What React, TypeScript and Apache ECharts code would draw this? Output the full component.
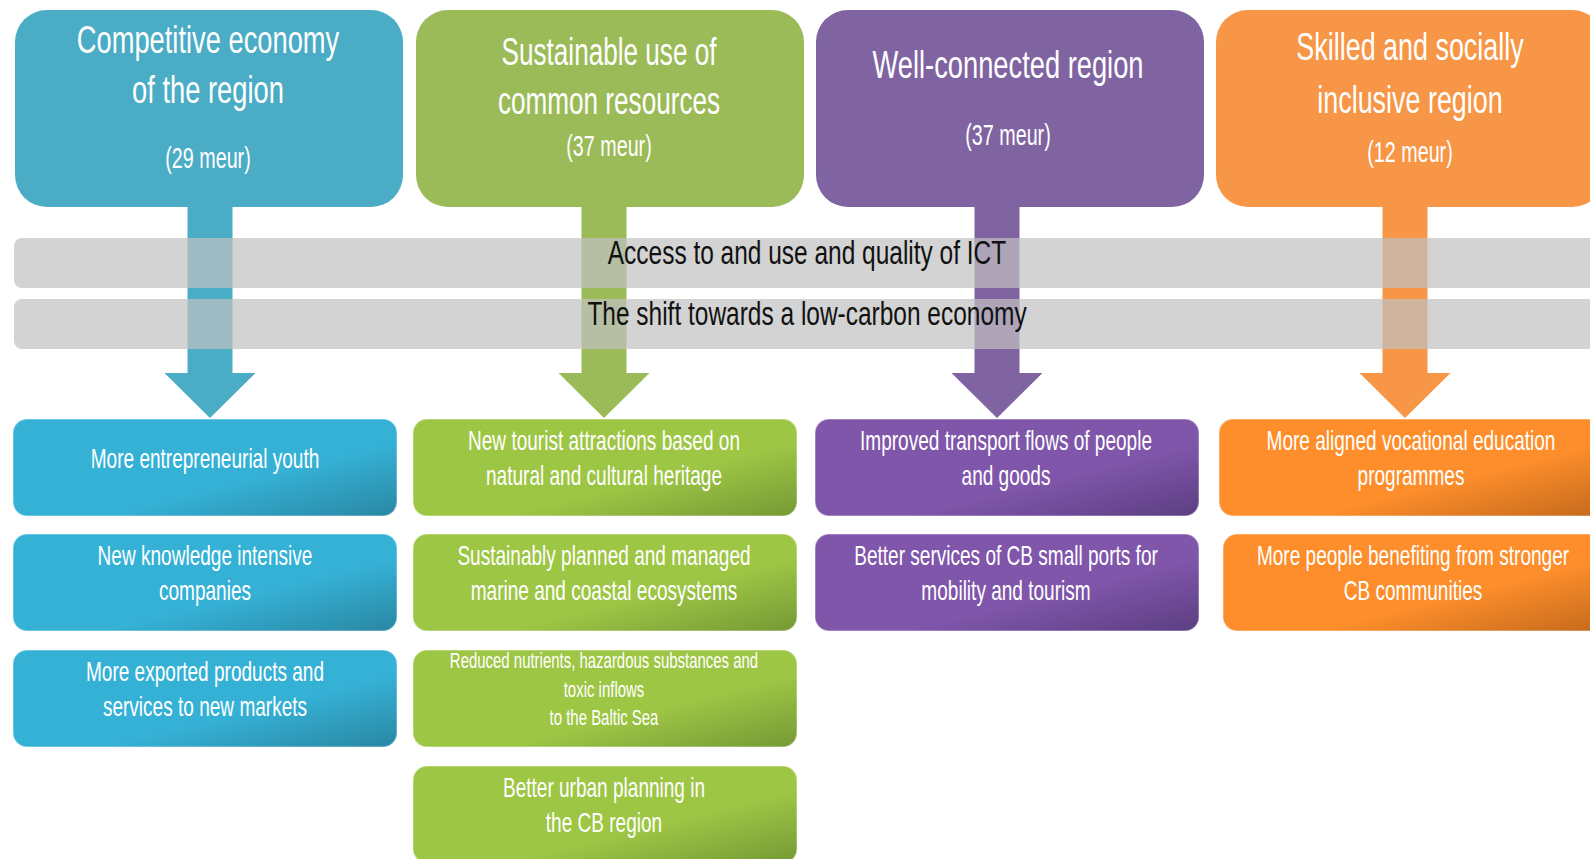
import React, { useEffect, useRef } from "react";
import * as echarts from "echarts";

// ---- content ----
const priorityTitles: string[][] = [
  ["Competitive economy", "of the region"],
  ["Sustainable use of", "common resources"],
  ["Well-connected region"],
  ["Skilled and socially", "inclusive region"],
];
const priorityBudgets = ["(29 meur)", "(37 meur)", "(37 meur)", "(12 meur)"];
const crossCuttingThemes = [
  "Access to and use and quality of ICT",
  "The shift towards a low-carbon economy",
];
const outcomesCompetitive: string[][] = [
  ["More entrepreneurial youth"],
  ["New knowledge intensive", "companies"],
  ["More exported products and", "services to new markets"],
];
const outcomesSustainable: string[][] = [
  ["New tourist attractions based on", "natural and cultural heritage"],
  ["Sustainably planned and managed", "marine and coastal ecosystems"],
  ["Reduced nutrients, hazardous substances and", "toxic inflows", "to the Baltic Sea"],
  ["Better urban planning in", "the CB region"],
];
const outcomesConnected: string[][] = [
  ["Improved transport flows of people", "and goods"],
  ["Better services of CB small ports for", "mobility and tourism"],
];
const outcomesSkilled: string[][] = [
  ["More aligned vocational education", "programmes"],
  ["More people benefiting from stronger", "CB communities"],
];
const outcomeColumns = [outcomesCompetitive, outcomesSustainable, outcomesConnected, outcomesSkilled];

// ---- styling ----
const themeColors = ["#4BACC6", "#9BBB59", "#8064A2", "#F79646"];
const outcomeLight = ["#35B1D6", "#9DC645", "#7F56AA", "#FD8E2B"];
const outcomeDark = ["#2A87A3", "#769935", "#5C3E82", "#C4691C"];

const FONT = '"Liberation Sans", Arial, sans-serif';

// ---- layout ----
const topX = [15, 416, 816, 1216];
const topW = 388;
const topY = 10;
const topH = 197;
const titleCX = [208, 609, 1008, 1410];
const titleCY = [65, 75.5, 65, 73.5];
const titleLH = [50, 49, 50, 53];
const titleSX = [0.7, 0.67, 0.7, 0.69];
const budgetY = [158, 146, 135, 152];
const arrowCX = [210, 604, 997, 1405];
const outX = [13, 413, 815, 1219];
const outW = 384;
const outY = [419, 534, 650, 766];
const outH = 97;
const outTextCX = [205, 604, 1006, 1411];
const bandY = [238, 299];
const bandTextY = [252, 313];

function txt(text: string, x: number, y: number, size: number, color: string, sx = 0.7, lh?: number) {
  return {
    type: "text",
    x,
    y,
    scaleX: sx,
    z: 10,
    style: {
      text,
      fill: color,
      fontSize: size,
      fontFamily: FONT,
      align: "center",
      verticalAlign: "middle",
      lineHeight: lh,
    },
  };
}

function buildGraphics() {
  const els: any[] = [];
  // arrows
  arrowCX.forEach((cx, i) => {
    els.push({
      type: "polygon",
      z: 1,
      shape: {
        points: [
          [cx - 22.5, topY + topH - 2],
          [cx + 22.5, topY + topH - 2],
          [cx + 22.5, 373],
          [cx + 45.5, 373],
          [cx, 418],
          [cx - 45.5, 373],
          [cx - 22.5, 373],
        ],
      },
      style: { fill: themeColors[i] },
    });
  });
  // top priority boxes
  topX.forEach((x, i) => {
    els.push({
      type: "rect",
      z: 2,
      shape: { x, y: topY, width: topW, height: topH, r: 32 },
      style: { fill: themeColors[i] },
    });
    els.push(txt(priorityTitles[i].join("\n"), titleCX[i], titleCY[i], 39, "#ffffff", titleSX[i], titleLH[i]));
    els.push(txt(priorityBudgets[i], titleCX[i], budgetY[i], 29, "#ffffff", 0.68));
  });
  // cross-cutting bands
  bandY.forEach((y, i) => {
    els.push({
      type: "rect",
      z: 3,
      shape: { x: 14, y, width: 1620, height: 50, r: 8 },
      style: { fill: "rgba(193,193,193,0.71)" },
    });
    els.push(txt(crossCuttingThemes[i], 807, bandTextY[i], 34, "#111111", 0.72));
  });
  // outcome boxes
  outcomeColumns.forEach((col, c) => {
    col.forEach((lines, r) => {
      const y = outY[r];
      const shift = c === 3 && r === 1 ? 4 : 0;
      els.push({
        type: "rect",
        z: 2,
        shape: { x: outX[c] + shift, y, width: outW, height: outH, r: 14 },
        style: {
          fill: {
            type: "linear",
            x: 0,
            y: 0,
            x2: 1,
            y2: 1,
            colorStops: [
              { offset: 0, color: outcomeLight[c] },
              { offset: 0.62, color: outcomeLight[c] },
              { offset: 1, color: outcomeDark[c] },
            ],
          },
          stroke: "rgba(255,255,255,0.35)",
          lineWidth: 1.5,
        },
      });
      const small = lines.length >= 3;
      els.push(
        txt(lines.join("\n"), outTextCX[c] + shift / 2, y + 39, small ? 22 : 28, "#ffffff", 0.68, small ? 28.5 : 35)
      );
    });
  });
  return els;
}

export default function App() {
  const ref = useRef<HTMLDivElement>(null);
  useEffect(() => {
    if (!ref.current) return;
    const chart = echarts.init(ref.current, undefined, { renderer: "svg" });
    chart.setOption({
      animation: false,
      backgroundColor: "#ffffff",
      graphic: { elements: buildGraphics() },
    });
    return () => chart.dispose();
  }, []);
  return (
    <div
      ref={ref}
      style={{ position: "fixed", left: 0, top: 0, width: 1590, height: 859, background: "#fff" }}
    />
  );
}
